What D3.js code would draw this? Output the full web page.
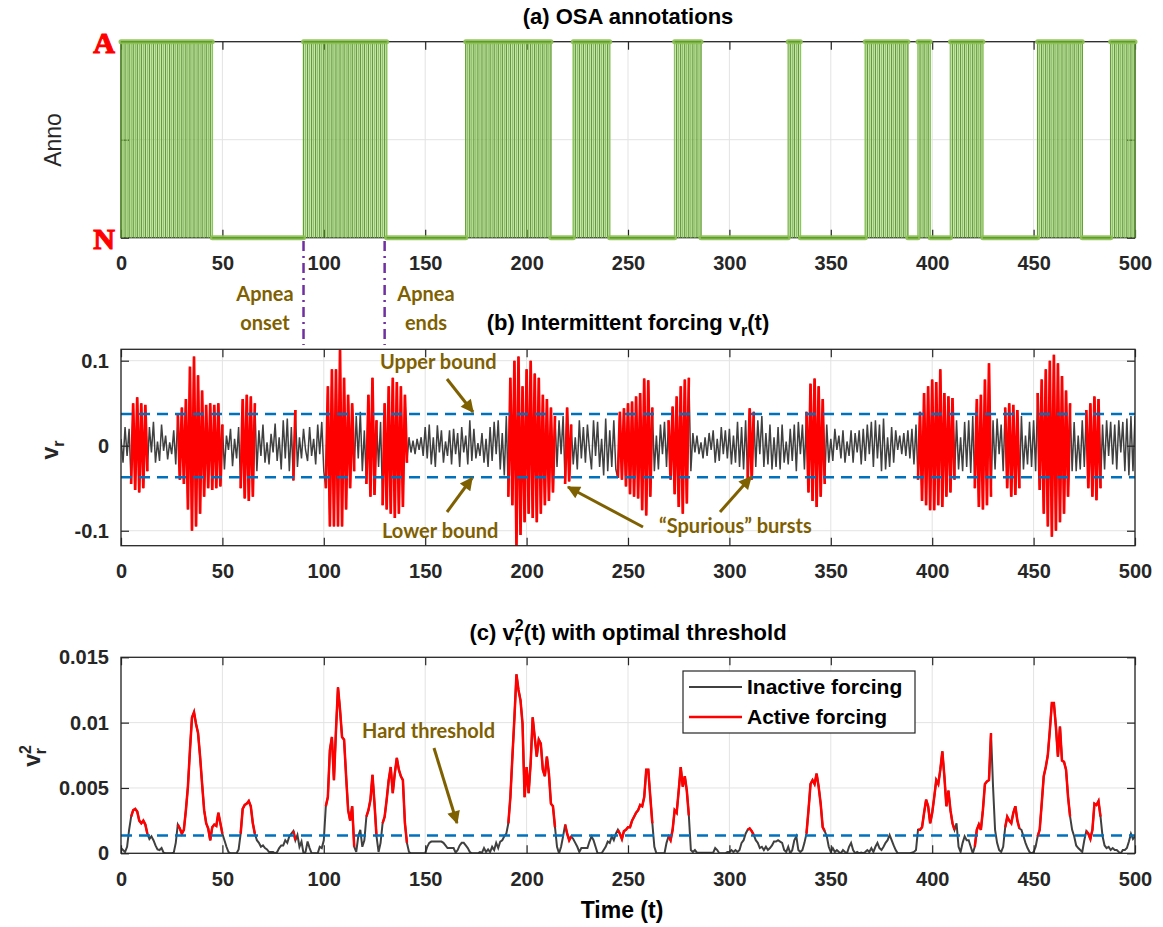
<!DOCTYPE html>
<html><head><meta charset="utf-8">
<script src="https://cdn.jsdelivr.net/npm/d3@7"></script>
<style>body{margin:0;background:#fff}svg{display:block}</style>
</head><body>
<svg id="chart" width="1163" height="927"></svg>
<script>
// ---------------- DATA ----------------
const timeTicks = [0,50,100,150,200,250,300,350,400,450,500];
const annoTicks = [0,0.5,1];
const annoTickLabels = ["N","","A"];
// Apnea (A) annotation intervals in time units; the rest is N
const annoSegments = [[0,45],[90,131],[170,212],[223,241],[273,286],[329,335],[367,388],[393,399],[409,425],[452,474],[488,500]];
// Active-forcing intervals (red)
const activeIntervals = [[5,13],[28,50],[59,66],[85,86],[101,115],[121,126],[129,141],[191,214],[219,222],[245,262],[270,280],[309,312],[338,347],[393,411],[421,429],[436,443],[452,468],[476,483]];
// v_r(t) in units of 1e-3, one sample per time unit t=0..500
const vr = [
8,-20,22,-12,20,
-45,50,-52,57,-55,50,-50,48,
-30,22,-8,28,-20,5,-18,25,-6,12,-16,4,-10,18,-22,
38,-40,45,-45,55,-75,93,-100,105,-95,83,-80,65,-60,48,-50,50,-52,48,-50,50,-48,25,
-28,12,-5,20,-24,8,-15,22,
-50,55,-62,60,-65,58,-60,50,
-30,18,-12,25,-20,4,-22,14,-8,26,-18,10,-28,30,-15,32,-30,22,
-41,42,
-25,10,-15,20,-5,-18,22,-12,8,-22,25,-10,28,-30,
-50,70,-95,90,-95,90,-95,113,-95,80,-75,60,-50,50,-30,
35,-15,40,-30,18,
-45,60,-60,80,-58,30,
-25,28,
-70,50,-75,70,-80,80,-85,75,-80,70,-72,60,-20,
10,-8,6,-10,8,-5,10,-12,
22,-15,25,-22,10,-25,24,-8,18,-20,5,-12,18,-22,20,-10,15,-25,22,-8,12,-22,30,-18,20,-15,3,-12,15,-20,8,-25,22,-18,28,-10,30,-28,15,-35,35,
-60,80,-70,100,-118,105,-105,70,-90,90,-80,100,-85,85,-90,80,-80,60,-70,55,-65,45,-55,35,
-25,30,-10,35,
-45,45,-42,25,
-22,10,-28,30,-15,22,-20,25,-5,-28,30,-12,28,-25,8,-35,32,-30,18,-25,30,-28,
-38,40,-40,44,-48,50,-57,52,-60,58,-62,62,-76,79,-82,77,-60,45,
-30,12,-28,25,-10,28,-25,
30,-40,46,-57,58,-72,70,-80,78,-68,80,
-30,15,-8,12,-10,4,-15,10,-12,15,-5,18,-20,8,-18,22,-10,18,-15,20,-22,12,-20,28,-25,22,-28,30,
-41,44,-40,40,
-25,30,-10,35,-25,15,-22,25,-28,10,-25,22,-28,25,-20,5,-22,20,-18,25,-30,28,-10,25,-28,
40,-55,73,-65,79,-72,70,-60,55,-45,
25,-20,8,-18,20,-5,12,-15,18,-20,5,-12,18,-20,15,-8,18,-22,20,-18,25,-10,28,-25,30,-15,25,-30,32,-28,10,-25,22,-20,18,-5,12,-10,15,-12,18,-15,20,-22,25,
-40,40,-65,62,-70,70,-76,78,-76,75,-70,90,-72,62,-60,58,-55,56,-40,
30,-28,10,-30,28,-25,30,-32,35,
-50,55,-72,60,-75,78,-70,97,-60,
30,-28,32,-10,25,-30,
45,-50,50,-60,48,-58,42,-50,
35,-28,12,-22,28,-25,30,-30,
62,-52,78,-80,90,-95,100,-107,107,-100,97,-90,82,-80,65,-60,50,
-30,28,-30,12,-28,30,-25,
42,-50,50,-60,58,-64,55,-50,
25,-28,30,-12,28,-22,25,-28,30,-8,28,-30,32,-35,35,-30,35];
// v_r^2(t) in units of 1e-3, t=0..500
const vr2 = [
0.4,0.25,0.1,0.5,1.8,2.8,3.3,3.4,3.2,2.5,
2.3,2.5,2.2,1.5,1.1,1.3,1.0,0.6,0.3,0.25,
0.4,0.05,0,0,0,0,0.05,0.8,2.2,1.9,
1.5,1.8,3.3,5.1,7.9,10.4,10.8,9.9,9.2,7.4,
5.3,3.3,2.3,1.9,1.0,2.0,2.2,2.1,3.1,2.3,
1.5,1.0,0.5,0.1,0,0,0,0,0.3,1.5,
3.4,3.7,3.8,4.0,3.6,2.3,1.5,1.0,0.8,0.5,
0.6,0.4,0.3,0.1,0.1,0.1,0,0.1,0.4,0.6,
0.6,1.0,0.8,1.3,1.5,1.7,1.0,1.4,0.5,0.9,
0,0.1,0.9,0.4,0,0,0,0,0.5,0.4,
1.0,3.6,4.3,7.9,8.9,5.6,9.4,12.7,11.0,8.9,
8.7,5.9,3.3,2.5,3.6,0.5,0.1,1.3,1.8,0.5,
1.0,2.8,3.3,4.1,6.0,3.8,1.3,0.1,0.8,2.3,
2.8,4.1,5.6,6.6,4.6,6.1,7.3,6.4,5.9,5.6,
2.3,0.8,0.1,0,0,0,0,0,0,0,
0,0.5,0.8,0.9,0.9,0.9,0.9,0.9,0.9,0.8,
0.6,0.4,0.4,0.4,0.4,0.05,0.25,0.6,0.8,0.8,
0.6,0.4,0.1,0,0,0,0,0.1,0.05,0.4,
0.1,0.3,0.1,0.5,0.25,0.8,0.4,0.9,1.0,1.3,
1.5,2.3,4.3,7.4,10.4,13.7,12.5,11.7,9.9,4.3,
6.6,4.6,6.9,10.4,8.9,7.4,8.7,8.4,6.4,5.9,
7.4,6.1,3.8,3.6,2.0,0.5,0,0.5,1.3,2.2,
1.5,1.0,1.3,1.1,0.8,0.5,0.1,0.4,0.4,0.4,
0.4,0.9,1.3,1.0,0.5,0,0,0,0.25,0.5,
0.9,0.8,1.3,1.0,1.5,1.8,1.5,1.1,1.7,1.8,
2.0,2.0,2.5,2.8,3.1,3.3,3.7,3.6,4.3,6.4,
6.4,4.3,2.3,0.5,0,0,0,0,0,0.8,
1.3,1.0,1.8,3.3,3.1,4.8,6.6,5.1,5.9,4.8,
2.9,0.25,0.1,0.25,0.05,0.05,0.05,0.05,0.05,0.05,
0.05,0.05,0.05,0.4,0.25,0,0,0,0,0.1,
0.1,0.25,0.1,0.25,0.1,0.25,0.8,1.0,1.5,1.8,
1.9,1.7,1.4,1.0,0.8,0.4,0.5,0.25,0.5,0.25,
0.4,0.6,0.9,0.9,1.0,0.9,0.8,0.25,0.1,0.5,
0,0.25,1.0,1.3,0.25,0.1,0.25,0.8,1.5,3.3,
5.3,5.6,5.3,6.1,5.1,3.8,2.0,1.7,1.3,0.5,
0.1,0.4,0.1,0.25,0.1,0,0.25,0.1,0,0.5,
0.8,0.25,0,0.1,0,0.05,0,0.1,0.25,0.1,
0.4,0.1,0.5,0.8,0.4,0.25,0.5,0.8,1.0,1.4,
1.0,0.6,0.25,0,0,0,0,0,0,0,
0.05,0.1,0.25,1.8,1.8,2.0,3.1,4.1,3.6,2.3,
3.1,4.3,5.6,5.3,6.4,7.8,5.9,3.6,4.8,3.3,
2.3,1.8,2.3,0.5,0.1,0.8,1.3,1.0,1.0,0.5,
0,0.5,1.8,2.2,1.8,3.3,5.3,5.5,5.6,9.2,
5.1,1.8,0.8,0.25,0.1,0.5,2.0,2.8,2.5,2.3,
3.1,3.6,2.5,1.9,1.8,1.3,0.8,0.4,0.1,0,
0.1,0.5,1.3,1.8,3.8,5.9,6.6,7.5,9.4,11.5,
11.5,9.7,7.4,9.7,7.1,7.0,6.4,4.3,2.8,1.8,
1.3,0.6,0.4,0.25,0.1,1.0,1.7,1.5,1.1,1.8,
3.8,3.7,4.0,2.8,1.3,0.6,0.4,0.5,0.25,0.4,
0.25,0.25,0.1,0,0.25,0.25,0.4,0.9,1.5,1.1,
1.3];
const vrTicks = [-100,0,100];
const vrTickLabels = ["-0.1","0","0.1"];
const vr2Ticks = [0,5,10,15];
const vr2TickLabels = ["0","0.005","0.01","0.015"];
const boundLevel = 37.2;      // ×1e-3
const thresholdLevel = 1.36;  // ×1e-3
const apneaMarks = [90,130];
const legendLabels = ["Inactive forcing","Active forcing"];

// ---------------- LAYOUT ----------------
const svg = d3.select("#chart");
const FONT = "'Liberation Sans', Arial, sans-serif";
const OLIVE = "#7f6000";
const GRAY = "#404040";
const RED = "#ff0000";
const BLUE = "#0072bd";
const AX = "#262626";
const x = d3.scaleLinear().domain([0,500]).range([121,1135]);
const ya = d3.scaleLinear().domain([0,1]).range([237.7,41.7]);
const yb = d3.scaleLinear().domain([-117.6,113.4]).range([545.7,349.3]);
const yc = d3.scaleLinear().domain([0,15]).range([853.3,657.3]);

const defs = svg.append("defs");
[["clipB",yb],["clipC",yc]].forEach(([id,y])=>{
  defs.append("clipPath").attr("id",id).append("rect")
    .attr("x",x(0)).attr("y",y.range()[1]).attr("width",x(500)-x(0)).attr("height",y.range()[0]-y.range()[1]);
});
defs.append("marker").attr("id","arr").attr("viewBox","0 0 10 10").attr("refX",9).attr("refY",5)
  .attr("markerUnits","userSpaceOnUse").attr("markerWidth",15).attr("markerHeight",13).attr("orient","auto")
  .append("path").attr("d","M0,0 L10,5 L0,10 z").attr("fill",OLIVE);

function grid(y, yt){
  const g = svg.append("g");
  timeTicks.forEach(t=>g.append("line").attr("x1",x(t)).attr("x2",x(t)).attr("y1",y.range()[1]).attr("y2",y.range()[0])
    .attr("stroke","#e3e3e3").attr("stroke-width",1));
  yt.forEach(v=>g.append("line").attr("x1",x(0)).attr("x2",x(500)).attr("y1",y(v)).attr("y2",y(v))
    .attr("stroke","#e3e3e3").attr("stroke-width",1));
}
function axes(y, yt, ylabels, xPad, yPad, yFont){
  const top=y.range()[1], bot=y.range()[0];
  const gB = svg.append("g").attr("transform",`translate(0,${bot})`)
    .call(d3.axisBottom(x).tickValues(timeTicks).tickSizeInner(-8).tickSizeOuter(0).tickPadding(xPad).tickFormat(d3.format("d")));
  const gT = svg.append("g").attr("transform",`translate(0,${top})`)
    .call(d3.axisTop(x).tickValues(timeTicks).tickSizeInner(-8).tickSizeOuter(0).tickFormat(""));
  const gL = svg.append("g").attr("transform",`translate(${x(0)},0)`)
    .call(d3.axisLeft(y).tickValues(yt).tickSizeInner(-8).tickSizeOuter(0).tickPadding(yPad).tickFormat((d,i)=>ylabels[i]));
  const gR = svg.append("g").attr("transform",`translate(${x(500)},0)`)
    .call(d3.axisRight(y).tickValues(yt).tickSizeInner(-8).tickSizeOuter(0).tickFormat(""));
  [gB,gT,gL,gR].forEach(g=>{
    g.select(".domain").remove();
    g.selectAll("line").attr("stroke",AX).attr("stroke-width",1.2);
    g.selectAll("text").attr("fill",AX).attr("font-family",FONT).attr("font-weight","bold").attr("font-size",20);
  });
  if(yFont) yFont(gL.selectAll("text"));
  svg.append("rect").attr("x",x(0)).attr("y",top).attr("width",x(500)-x(0)).attr("height",bot-top)
    .attr("fill","none").attr("stroke",AX).attr("stroke-width",1.3);
}
function title(yb_, parts){
  const t = svg.append("text").attr("x",628).attr("y",yb_).attr("text-anchor","middle")
    .attr("font-family",FONT).attr("font-weight","bold").attr("font-size",22).attr("fill","#000");
  parts(t);
}

// ---------- Panel (a) ----------
grid(ya,[0.5]);
axes(ya, annoTicks, annoTickLabels, 18, 6, sel=>sel.attr("fill",RED).attr("stroke",RED).attr("stroke-width",1.2)
  .attr("font-family","'Liberation Serif','Times New Roman',serif").attr("font-weight","bold").attr("font-size",30).attr("dy","0.35em"));
const gA = svg.append("g");
const nSegs=[]; let prev=0;
annoSegments.forEach(([s,e])=>{ if(s>prev) nSegs.push([prev,s]); prev=e; });
if(prev<500) nSegs.push([prev,500]);
annoSegments.forEach(([s,e])=>{
  for(let t=s;t<=e;t++){
    gA.append("line").attr("x1",x(t)).attr("x2",x(t)).attr("y1",ya(0)).attr("y2",ya(1))
      .attr("stroke", t%2===0 ? "#5f9e2f" : "#8dc461").attr("stroke-width", t%2===0?1.4:1.6);
  }
  gA.append("line").attr("x1",x(s)).attr("x2",x(e)).attr("y1",ya(1)).attr("y2",ya(1))
    .attr("stroke","#8cc152").attr("stroke-width",5).attr("stroke-linecap","round").attr("opacity",0.9);
  gA.append("line").attr("x1",x(s)).attr("x2",x(e)).attr("y1",ya(1)).attr("y2",ya(1))
    .attr("stroke","#5f9a2e").attr("stroke-width",1.5);
});
nSegs.forEach(([s,e])=>{
  gA.append("line").attr("x1",x(s)).attr("x2",x(e)).attr("y1",ya(0)).attr("y2",ya(0))
    .attr("stroke","#8cc152").attr("stroke-width",5).attr("stroke-linecap","round").attr("opacity",0.9);
  gA.append("line").attr("x1",x(s)).attr("x2",x(e)).attr("y1",ya(0)).attr("y2",ya(0))
    .attr("stroke","#5f9a2e").attr("stroke-width",1.5);
});
title(24,t=>t.text("(a) OSA annotations"));
svg.append("text").attr("transform","translate(61,140) rotate(-90)").attr("text-anchor","middle")
  .attr("font-family",FONT).attr("font-size",23).attr("fill",AX).text("Anno");

apneaMarks.forEach(t=>{
  svg.append("line").attr("x1",x(t)).attr("x2",x(t)).attr("y1",241).attr("y2",345)
    .attr("stroke","#7030a0").attr("stroke-width",2.5).attr("stroke-dasharray","10,5,2,5");
});
const annText=(x0,y0,txt,anchor="start")=>svg.append("text").attr("x",x0).attr("y",y0).attr("text-anchor",anchor)
  .attr("font-family","Lato, 'Open Sans', sans-serif").attr("font-weight","bold").attr("font-size",20).attr("fill",OLIVE).text(txt);
annText(265,301,"Apnea","middle"); annText(265,330,"onset","middle");
annText(426,301,"Apnea","middle"); annText(426,330,"ends","middle");

// ---------- Panel (b) ----------
grid(yb, vrTicks);
const gBd = svg.append("g").attr("clip-path","url(#clipB)");
gBd.append("path").attr("d",d3.line().x((d,i)=>x(i)).y(d=>yb(d))(vr)).attr("fill","none").attr("stroke",GRAY).attr("stroke-width",1.5);
activeIntervals.forEach(([s,e])=>{
  const seg = d3.range(s,e+1).map(i=>[i,vr[i]]);
  gBd.append("path").attr("d",d3.line().x(d=>x(d[0])).y(d=>yb(d[1]))(seg)).attr("fill","none").attr("stroke",RED).attr("stroke-width",2.7);
});
[boundLevel,-boundLevel].forEach(v=>gBd.append("line").attr("x1",x(0)).attr("x2",x(500)).attr("y1",yb(v)).attr("y2",yb(v))
  .attr("stroke",BLUE).attr("stroke-width",2.5).attr("stroke-dasharray","11,7"));
axes(yb, vrTicks, vrTickLabels, 18, 12);
title(330,t=>{t.append("tspan").text("(b) Intermittent forcing v");
  t.append("tspan").attr("dy",6).attr("font-size",16).text("r");
  t.append("tspan").attr("dy",-6).text("(t)");});
const yl = svg.append("text").attr("transform","translate(58,450) rotate(-90)").attr("text-anchor","middle")
  .attr("font-family",FONT).attr("font-weight","bold").attr("font-size",23).attr("fill",AX);
yl.append("tspan").text("v"); yl.append("tspan").attr("dy",6).attr("font-size",16).text("r");

annText(380,369,"Upper bound"); annText(382,538,"Lower bound"); annText(659,533,"“Spurious” bursts");
const arrow=(x1,y1,x2,y2)=>svg.append("line").attr("x1",x1).attr("y1",y1).attr("x2",x2).attr("y2",y2)
  .attr("stroke",OLIVE).attr("stroke-width",3).attr("marker-end","url(#arr)");
arrow(447,379,473,412); arrow(447,512,472,478); arrow(643,527,568,487); arrow(720,512,751,477);

// ---------- Panel (c) ----------
grid(yc, [5,10]);
const gCd = svg.append("g").attr("clip-path","url(#clipC)");
gCd.append("path").attr("d",d3.line().x((d,i)=>x(i)).y(d=>yc(d))(vr2)).attr("fill","none").attr("stroke",GRAY).attr("stroke-width",2);
activeIntervals.forEach(([s,e])=>{
  const seg = d3.range(s,e+1).map(i=>[i,vr2[i]]);
  gCd.append("path").attr("d",d3.line().x(d=>x(d[0])).y(d=>yc(d[1]))(seg)).attr("fill","none").attr("stroke",RED).attr("stroke-width",2.5);
});
gCd.append("line").attr("x1",x(0)).attr("x2",x(500)).attr("y1",yc(thresholdLevel)).attr("y2",yc(thresholdLevel))
  .attr("stroke",BLUE).attr("stroke-width",2.5).attr("stroke-dasharray","11,7");
axes(yc, vr2Ticks, vr2TickLabels, 19, 12);
title(640,t=>{t.append("tspan").text("(c) v");
  t.append("tspan").attr("dy",-9).attr("font-size",16).text("2");
  t.append("tspan").attr("dx",-9).attr("dy",15).attr("font-size",16).text("r");
  t.append("tspan").attr("dx",3).attr("dy",-6).text("(t) with optimal threshold");});
const yl2 = svg.append("text").attr("transform","translate(40,756) rotate(-90)").attr("text-anchor","middle")
  .attr("font-family",FONT).attr("font-weight","bold").attr("font-size",23).attr("fill",AX);
yl2.append("tspan").text("v"); yl2.append("tspan").attr("dy",-9).attr("font-size",16).text("2");
yl2.append("tspan").attr("dx",-9).attr("dy",15).attr("font-size",16).text("r");
svg.append("text").attr("x",622).attr("y",918).attr("text-anchor","middle").attr("font-family",FONT)
  .attr("font-weight","bold").attr("font-size",23).attr("fill","#000").text("Time (t)");
annText(362,738,"Hard threshold");
arrow(434,748,457,823);

const lg = svg.append("g");
lg.append("rect").attr("x",683).attr("y",671).attr("width",232).attr("height",62).attr("fill","#fff").attr("stroke",AX).attr("stroke-width",1.2);
[[GRAY,2,687],[RED,2.5,717]].forEach(([c,w,yy],i)=>{
  lg.append("line").attr("x1",689).attr("x2",742).attr("y1",yy).attr("y2",yy).attr("stroke",c).attr("stroke-width",w);
  lg.append("text").attr("x",747).attr("y",yy+7).attr("font-family",FONT).attr("font-weight","bold").attr("font-size",21)
    .attr("fill","#000").text(legendLabels[i]);
});
</script>
</body></html>
